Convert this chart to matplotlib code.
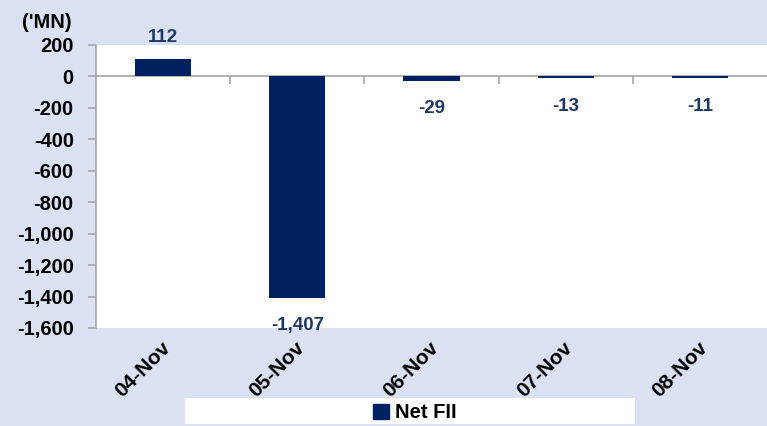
import matplotlib
matplotlib.use("Agg")
import matplotlib.pyplot as plt
import matplotlib.patches as mpatches
import matplotlib.transforms as mtransforms
from matplotlib.ticker import FuncFormatter
import numpy as np

# Data
dates = ["04-Nov", "05-Nov", "06-Nov", "07-Nov", "08-Nov"]
net_fii = [112, -1407, -29, -13, -11]
y_ticks = list(range(-1600, 201, 200))

BG = "#D9E1F2"
BAR = "#002060"
LABEL = "#1F3864"
AXIS_GRAY = "#A6A6A6"

plt.rcParams["font.family"] = ["Liberation Sans", "DejaVu Sans"]
plt.rcParams["font.weight"] = "bold"

fig = plt.figure(figsize=(7.67, 4.26), dpi=100, facecolor=BG)
ax = fig.add_axes([96 / 767, 98 / 426, 1 - 96 / 767, 283 / 426])
ax.set_facecolor("white")

x = np.arange(len(dates))
bars = ax.bar(x, net_fii, width=0.42, color=BAR, zorder=3)

ax.set_xlim(-0.5, len(dates) - 0.5)
ax.set_ylim(y_ticks[0], y_ticks[-1])
ax.set_yticks(y_ticks)
ax.yaxis.set_major_formatter(FuncFormatter(lambda v, p: f"{int(v):,}"))
ax.tick_params(axis="y", direction="out", length=6, width=1.2, color=AXIS_GRAY,
               labelsize=14.5, pad=10)

# category labels, rotated
ax.set_xticks(x, dates)
ax.tick_params(axis="x", length=0, labelsize=15, pad=12)
shift = mtransforms.ScaledTranslation(3 / 72, 0, fig.dpi_scale_trans)
for lbl in ax.get_xticklabels():
    lbl.set_rotation(45)
    lbl.set_rotation_mode("anchor")
    lbl.set_ha("right")
    lbl.set_va("center")
    lbl.set_fontweight("bold")
    lbl.set_transform(lbl.get_transform() + shift)
for lbl in ax.get_yticklabels():
    lbl.set_fontweight("bold")

for s in ["top", "right", "bottom"]:
    ax.spines[s].set_visible(False)
ax.spines["left"].set_color(AXIS_GRAY)
ax.spines["left"].set_linewidth(1.2)

# zero line with category separator ticks
ax.axhline(0, color=AXIS_GRAY, lw=1.2, zorder=2)
bounds = np.arange(len(dates) - 1) + 0.5
ax.vlines(bounds, 0, -45, color=AXIS_GRAY, lw=1.2, zorder=2)

# data labels
for xi, v in zip(x, net_fii):
    if v >= 0:
        ax.annotate(f"{v:,}", (xi, v), xytext=(0, 9), textcoords="offset points",
                    ha="center", va="bottom", color=LABEL, fontsize=13.5,
                    fontweight="bold", annotation_clip=False)
    else:
        ax.annotate(f"{v:,}", (xi, v), xytext=(0, -14), textcoords="offset points",
                    ha="center", va="top", color=LABEL, fontsize=13.5,
                    fontweight="bold", annotation_clip=False)

fig.text(47 / 767, 1 - 22 / 426, "('MN)", ha="center", va="center",
         fontsize=14.5, fontweight="bold")

# legend box
fig.patches.append(mpatches.Rectangle((185 / 767, 2 / 426), 450 / 767, 26 / 426,
                                      transform=fig.transFigure, facecolor="white",
                                      edgecolor="none", zorder=0))
handle = mpatches.Patch(color=BAR, label="Net FII")
fig.legend(handles=[handle], loc="center", bbox_to_anchor=(415 / 767, 13 / 426),
           frameon=False, handlelength=0.8, handleheight=0.8,
           handletextpad=0.3, prop={"weight": "bold", "size": 14.5})

fig.savefig("out.png", dpi=100, facecolor=BG)
